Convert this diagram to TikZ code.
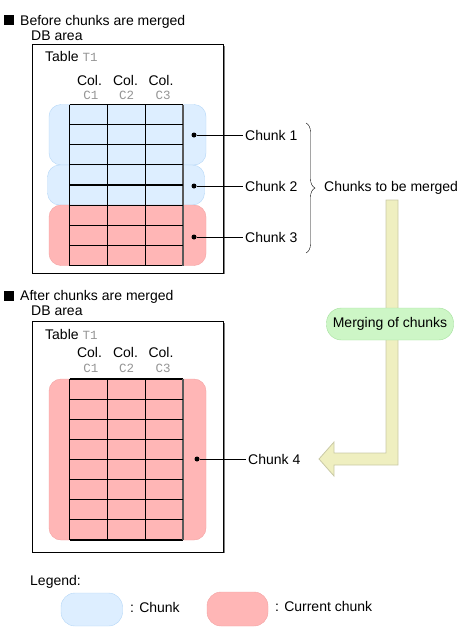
\documentclass[tikz,border=0pt]{standalone}
\usepackage{fontspec}
\setmainfont{Liberation Sans}
\setmonofont{Liberation Mono}
\usetikzlibrary{positioning,calc,decorations.pathreplacing}

\definecolor{chunkblue}{HTML}{DDEEFF}
\definecolor{chunkblueline}{HTML}{B3D6F7}
\definecolor{chunkred}{HTML}{FFB6B6}
\definecolor{chunkredline}{HTML}{F3A3A3}
\definecolor{mergegreen}{HTML}{CDF6C6}
\definecolor{mergegreenline}{HTML}{A3E09C}
\definecolor{arrowyellow}{HTML}{EFEFC0}
\definecolor{arrowyellowline}{HTML}{C9C9A6}
\definecolor{colgray}{HTML}{7F7F7F}
\definecolor{monogray}{HTML}{959595}

\begin{document}
\begin{tikzpicture}[x=1pt, y=-1pt, font=\fontsize{14}{16}\selectfont,
  chunk/.style={fill=chunkblue, draw=chunkblueline, rounded corners=12pt},
  curchunk/.style={fill=chunkred, draw=chunkredline, rounded corners=12pt},
  txt/.style={anchor=base west, inner sep=0pt},
  mono/.style={font=\fontsize{12.5}{14}\selectfont\ttfamily, text=monogray, anchor=base, inner sep=0pt},
  dbbox/.style={draw, line width=0.8pt},
  gridline/.style={line width=1.1pt},
  dot/.style={circle, fill, inner sep=0pt, minimum size=5pt},
  chunklbl/.style={anchor=west, inner sep=2pt}]
\useasboundingbox (0,0) rectangle (463,629);

% before merge
\node[fill, inner sep=0pt, minimum size=10pt] (bullet1) at (9,20) {};
\node[txt] (before) at (20,25) {Before chunks are merged};
\node[txt] (dbarea1) at (31,40) {DB area};
\draw[colgray, line width=1.2pt] (33.5,273.5) -- (224,273.5) -- (224,45.5);
\draw[dbbox] (32,44) rectangle (223,273);
\node[txt] (table1) at (45,61) {Table \textcolor{monogray}{\fontsize{12.5}{14}\selectfont\ttfamily T1}};
\node[anchor=base, inner sep=0pt] (cola1) at (89.5,85.5) {Col.};
\node[anchor=base, inner sep=0pt] (colb1) at (125.5,85.5) {Col.};
\node[anchor=base, inner sep=0pt] (colc1) at (161,85.5) {Col.};
\node[mono] (ca1) at (91,99) {C1};
\node[mono] (cb1) at (126.5,99) {C2};
\node[mono] (cc1) at (163,99) {C3};

\draw[chunk] (49,104.5) rectangle (206,165);
\draw[chunk] (47.5,165) rectangle (204.5,205);
\draw[curchunk] (49,205) rectangle (206,265.5);
\draw[gridline] (69.5,104.5) -- (183,104.5) (69.5,265.5) -- (183,265.5) (69.5,104.5) -- (69.5,265.5);
\draw[gridline, colgray!70!black] (183,104.5) -- (183,265.5);
\foreach \x in {107.5,145.5}
  \draw[gridline] (\x,104.5) -- (\x,265.5);
\foreach \i in {1,...,7}
  \draw[gridline] (69.5,{104.5+20.125*\i}) -- (183,{104.5+20.125*\i});

\node[dot] (d1) at (194,135) {};
\node[dot] (d2) at (194,186) {};
\node[dot] (d3) at (194,237) {};
\node[chunklbl] (chunk1) at (243,135) {Chunk 1};
\node[chunklbl] (chunk2) at (243,186) {Chunk 2};
\node[chunklbl] (chunk3) at (243,237) {Chunk 3};
\draw (d1) -- (chunk1);
\draw (d2) -- (chunk2);
\draw (d3) -- (chunk3);

\draw[decorate, decoration={brace, amplitude=9pt}] (306,123) -- (306,253);
\node[anchor=west, inner sep=0pt] (tomerge) at (324,188) {Chunks to be merged};

% merging arrow
\draw[fill=arrowyellow, draw=arrowyellowline, line width=0.8pt]
  (386,200) -- (398,200) -- (398,465) -- (334,465) -- (334,476) -- (319,459)
  -- (334,442) -- (334,453) -- (386,453) -- cycle;
\node[fill=mergegreen, draw=mergegreenline, rounded corners=15pt, minimum width=127pt,
  minimum height=32pt, inner sep=2pt] (merging) at (390,324) {Merging of chunks};

% after merge
\node[fill, inner sep=0pt, minimum size=10pt] (bullet2) at (9,295.5) {};
\node[txt] (after) at (20,300.5) {After chunks are merged};
\node[txt] (dbarea2) at (31,315.5) {DB area};
\draw[colgray, line width=1.2pt] (33.5,552.5) -- (224,552.5) -- (224,322.5);
\draw[dbbox] (32,321) rectangle (223,552);
\node[txt] (table2) at (45,339) {Table \textcolor{monogray}{\fontsize{12.5}{14}\selectfont\ttfamily T1}};
\node[anchor=base, inner sep=0pt] (cola2) at (89.5,357) {Col.};
\node[anchor=base, inner sep=0pt] (colb2) at (125.5,357) {Col.};
\node[anchor=base, inner sep=0pt] (colc2) at (161,357) {Col.};
\node[mono] (ca2) at (91,372.5) {C1};
\node[mono] (cb2) at (126.5,372.5) {C2};
\node[mono] (cc2) at (163,372.5) {C3};

\draw[curchunk] (49,379) rectangle (206,540);
\draw[gridline] (69.5,379) -- (183,379) (69.5,540) -- (183,540) (69.5,379) -- (69.5,540);
\draw[gridline, colgray!70!black] (183,379) -- (183,540);
\foreach \x in {107.5,145.5}
  \draw[gridline] (\x,379) -- (\x,540);
\foreach \i in {1,...,7}
  \draw[gridline] (69.5,{379+20.125*\i}) -- (183,{379+20.125*\i});

\node[dot] (d4) at (197,459) {};
\node[chunklbl] (chunk4) at (246,459) {Chunk 4};
\draw (d4) -- (chunk4);

% legend
\node[txt] (legend) at (30,585) {Legend:};
\draw[chunk, rounded corners=14pt] (61,593) rectangle (122.5,626);
\node[txt] (legchunk) at (130,612) {: Chunk};
\draw[curchunk, rounded corners=14pt] (207,592) rectangle (268,626);
\node[txt] (legcur) at (275,611) {: Current chunk};
\end{tikzpicture}
\end{document}
